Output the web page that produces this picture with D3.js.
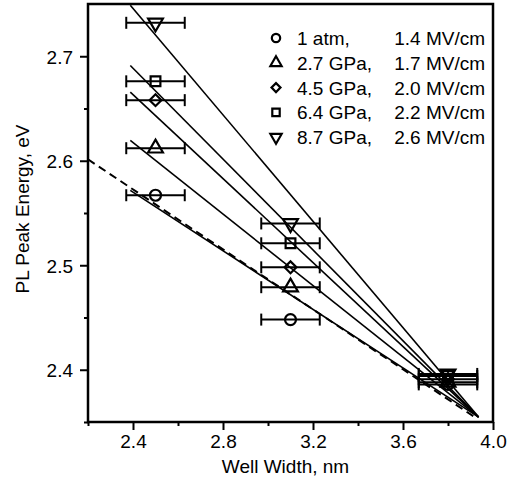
<!DOCTYPE html>
<meta charset="utf-8" />
<style>
  body { margin: 0; background: #fff; }
  text { font-family: "Liberation Sans", Arial, sans-serif; fill: #000; }
</style>
<body>
  <div id="my_dataviz"></div>
  <script src="https://d3js.org/d3.v7.min.js"></script>
  <script>
    // data
    var wellWidth = [2.5, 3.1, 3.8];
    var widthErr = 0.13;
    var seriesNames = ["1 atm,", "2.7 GPa,", "4.5 GPa,", "6.4 GPa,", "8.7 GPa,"];
    var seriesFields = ["1.4 MV/cm", "1.7 MV/cm", "2.0 MV/cm", "2.2 MV/cm", "2.6 MV/cm"];
    var seriesSymbols = ["circle", "triangle", "diamond", "square", "triangleDown"];
    var peak1atm = [2.567, 2.448, 2.386];
    var peak27 = [2.612, 2.479, 2.388];
    var peak45 = [2.658, 2.498, 2.391];
    var peak64 = [2.676, 2.521, 2.394];
    var peak87 = [2.732, 2.540, 2.396];
    // fitted lines, [width, energy] at both ends
    var fit1atm = [[2.388, 2.5716], [3.936, 2.3547]];
    var fit27 = [[2.388, 2.6194], [3.936, 2.3547]];
    var fit45 = [[2.388, 2.6657], [3.936, 2.3547]];
    var fit64 = [[2.388, 2.6911], [3.936, 2.3547]];
    var fit87 = [[2.388, 2.7488], [3.936, 2.3547]];
    var fitDashed = [[2.2, 2.6013], [3.93, 2.353]];
    var xMajor = [2.4, 2.8, 3.2, 3.6, 4.0];
    var xMinor = [2.2, 2.6, 3.0, 3.4, 3.8];
    var yMajor = [2.4, 2.5, 2.6, 2.7];
    var yMinor = [2.35, 2.45, 2.55, 2.65];

    var peaks = [peak1atm, peak27, peak45, peak64, peak87];
    var fits = [fit1atm, fit27, fit45, fit64, fit87];

    var margin = { top: 4, right: 25, bottom: 59, left: 88 },
      width = 518 - margin.left - margin.right,
      height = 481 - margin.top - margin.bottom;

    var svg = d3
      .select("#my_dataviz")
      .append("svg")
      .attr("width", 518)
      .attr("height", 481)
      .append("g")
      .attr("transform", "translate(" + margin.left + "," + margin.top + ")");

    var x = d3.scaleLinear().domain([2.2, 4.0]).range([0, width]);
    var y = d3.scaleLinear().domain([2.35, 2.75]).range([height, 0]);

    // clip everything to the frame
    svg
      .append("defs")
      .append("clipPath")
      .attr("id", "clip")
      .append("rect")
      .attr("width", width)
      .attr("height", height);

    var plot = svg.append("g").attr("clip-path", "url(#clip)");

    var line = d3
      .line()
      .x(function(d) { return x(d[0]); })
      .y(function(d) { return y(d[1]); });

    // fitted lines
    fits.forEach(function(f) {
      plot
        .append("path")
        .datum(f)
        .attr("fill", "none")
        .attr("stroke", "#000")
        .attr("stroke-width", 1.6)
        .attr("d", line);
    });

    plot
      .append("path")
      .datum(fitDashed)
      .attr("fill", "none")
      .attr("stroke", "#000")
      .attr("stroke-width", 2)
      .attr("stroke-dasharray", "8,5")
      .attr("d", line);

    function symbolPath(name, size) {
      var type = {
        circle: d3.symbolCircle,
        triangle: d3.symbolTriangle,
        triangleDown: d3.symbolTriangle,
        diamond: d3.symbolSquare,
        square: d3.symbolSquare
      }[name];
      return d3.symbol().type(type).size(size)();
    }
    function symbolRotate(name) {
      if (name == "triangleDown") return 180;
      if (name == "diamond") return 45;
      return 0;
    }

    // error bars and markers
    peaks.forEach(function(vals, i) {
      var pts = wellWidth.map(function(w, j) { return [w, vals[j]]; });
      var g = svg.append("g");

      g.selectAll("line.bar")
        .data(pts)
        .enter()
        .append("line")
        .attr("x1", function(d) { return x(d[0] - widthErr); })
        .attr("x2", function(d) { return x(d[0] + widthErr); })
        .attr("y1", function(d) { return y(d[1]); })
        .attr("y2", function(d) { return y(d[1]); })
        .attr("stroke", "#000")
        .attr("stroke-width", 2);

      [-1, 1].forEach(function(s) {
        g.selectAll("line.cap" + s)
          .data(pts)
          .enter()
          .append("line")
          .attr("x1", function(d) { return x(d[0] + s * widthErr); })
          .attr("x2", function(d) { return x(d[0] + s * widthErr); })
          .attr("y1", function(d) { return y(d[1]) - 6; })
          .attr("y2", function(d) { return y(d[1]) + 6; })
          .attr("stroke", "#000")
          .attr("stroke-width", 2);
      });

      g.selectAll("path")
        .data(pts)
        .enter()
        .append("path")
        .attr("d", symbolPath(seriesSymbols[i], seriesSymbols[i] == "diamond" ? 70 : 95))
        .attr("transform", function(d) {
          return "translate(" + x(d[0]) + "," + y(d[1]) + ") rotate(" + symbolRotate(seriesSymbols[i]) + ")";
        })
        .attr("fill", "none")
        .attr("stroke", "#000")
        .attr("stroke-width", 2.2);
    });

    // axes with outward ticks
    svg
      .append("g")
      .attr("transform", "translate(0," + height + ")")
      .call(d3.axisBottom(x).tickValues(xMajor).tickSize(8).tickFormat(d3.format(".1f")))
      .call(function(g) {
        g.select(".domain").remove();
        g.selectAll("line").attr("stroke-width", 2);
        g.selectAll("text").style("font-size", "19px").attr("dy", "0.95em").attr("y", 8);
      });
    svg
      .append("g")
      .attr("transform", "translate(0," + height + ")")
      .call(d3.axisBottom(x).tickValues(xMinor).tickSize(4).tickFormat(""))
      .call(function(g) {
        g.select(".domain").remove();
        g.selectAll("line").attr("stroke-width", 2);
      });
    svg
      .append("g")
      .call(d3.axisLeft(y).tickValues(yMajor).tickSize(8).tickFormat(d3.format(".1f")))
      .call(function(g) {
        g.select(".domain").remove();
        g.selectAll("line").attr("stroke-width", 2);
        g.selectAll("text").style("font-size", "19px").attr("x", -15).attr("dy", "0.36em");
      });
    svg
      .append("g")
      .call(d3.axisLeft(y).tickValues(yMinor).tickSize(4).tickFormat(""))
      .call(function(g) {
        g.select(".domain").remove();
        g.selectAll("line").attr("stroke-width", 2);
      });

    // frame
    svg
      .append("rect")
      .attr("width", width)
      .attr("height", height)
      .attr("fill", "none")
      .attr("stroke", "#000")
      .attr("stroke-width", 2.5);

    // axis titles
    svg
      .append("text")
      .attr("x", width / 2 - 5)
      .attr("y", height + 51)
      .attr("text-anchor", "middle")
      .style("font-size", "19px")
      .text("Well Width, nm");

    svg
      .append("text")
      .attr("transform", "rotate(-90)")
      .attr("x", -205)
      .attr("y", -59)
      .attr("text-anchor", "middle")
      .style("font-size", "19px")
      .text("PL Peak Energy, eV");

    // legend
    var legend = svg
      .selectAll(".legend")
      .data(seriesNames)
      .enter()
      .append("g")
      .attr("transform", function(d, i) { return "translate(188," + (34 + i * 24.8) + ")"; });

    legend
      .append("path")
      .attr("d", function(d, i) { return symbolPath(seriesSymbols[i], seriesSymbols[i] == "diamond" ? 40 : 55); })
      .attr("transform", function(d, i) { return "rotate(" + symbolRotate(seriesSymbols[i]) + ")"; })
      .attr("fill", "none")
      .attr("stroke", "#000")
      .attr("stroke-width", 2.2);

    legend
      .append("text")
      .attr("x", 21)
      .attr("y", 7)
      .style("font-size", "19px")
      .text(function(d) { return d; });

    legend
      .append("text")
      .attr("x", 209)
      .attr("y", 7)
      .attr("text-anchor", "end")
      .style("font-size", "19px")
      .text(function(d, i) { return seriesFields[i]; });
  </script>
</body>
